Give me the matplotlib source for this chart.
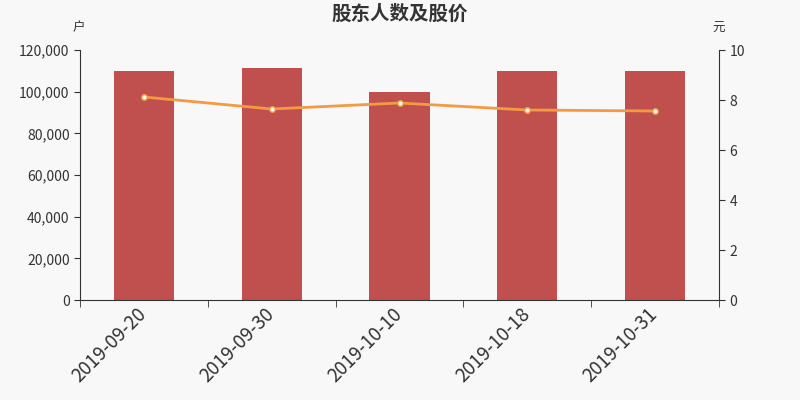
import matplotlib
matplotlib.use("Agg")
import matplotlib.pyplot as plt
import matplotlib.transforms as mtransforms
import numpy as np

plt.rcParams['font.family'] = ['Noto Sans CJK SC', 'DejaVu Sans']

dates = ["2019-09-20", "2019-09-30", "2019-10-10", "2019-10-18", "2019-10-31"]
holders = [110000, 111500, 100000, 110000, 110000]
prices = [8.12, 7.64, 7.88, 7.60, 7.56]

fig = plt.figure(figsize=(8, 4), dpi=100, facecolor='#f8f8f8')
ax = fig.add_axes([0.1, 0.25, 0.79875, 0.625])
ax.set_facecolor('#f8f8f8')
x = np.arange(len(dates))
ax.bar(x, holders, width=0.47, color='#c0504d', zorder=2)
ax.set_xlim(-0.5, len(dates) - 0.5)
ax.set_ylim(0, 120000)
ax.set_yticks(np.arange(0, 120001, 20000))
ax.set_yticklabels([f"{v:,}" for v in range(0, 120001, 20000)], fontsize=10, color='#333333')
ax.set_xticks(x)
ax.set_xticklabels(dates, rotation=45, ha='right', rotation_mode='anchor', fontsize=13.5, color='#333333')
ax.tick_params(axis='x', length=0, pad=3)
offset = mtransforms.ScaledTranslation(-0.08, 0.0, fig.dpi_scale_trans)
for lbl in ax.get_xticklabels():
    lbl.set_transform(lbl.get_transform() + offset)
ax.set_xticks(np.arange(-0.5, len(dates) + 0.5, 1), minor=True)
ax.tick_params(axis='x', which='minor', length=5, color='#333333')
ax.tick_params(axis='y', length=4, color='#333333')
for s in ['top', 'right']:
    ax.spines[s].set_visible(False)
ax.spines['left'].set_color('#333333')
ax.spines['bottom'].set_color('#333333')

ax2 = ax.twinx()
ax2.plot(x, prices, color='#f39a43', lw=2, marker='o', markersize=4,
         markerfacecolor='white', markeredgecolor='#f39a43', markeredgewidth=1, zorder=3)
ax2.set_ylim(0, 10)
ax2.set_yticks(np.arange(0, 11, 2))
ax2.tick_params(axis='y', length=4, color='#333333', labelsize=10, labelcolor='#333333')
for s in ['top', 'left', 'bottom']:
    ax2.spines[s].set_visible(False)
ax2.spines['right'].set_color('#333333')

fig.text(0.5, 0.965, "股东人数及股价", ha='center', va='center', fontsize=14, fontweight='bold', color='#333333')
fig.text(0.098, 0.93, "户", ha='center', va='center', fontsize=9, color='#333333')
fig.text(0.898, 0.93, "元", ha='center', va='center', fontsize=9, color='#333333')

fig.savefig("out.png", dpi=100, facecolor=fig.get_facecolor())
